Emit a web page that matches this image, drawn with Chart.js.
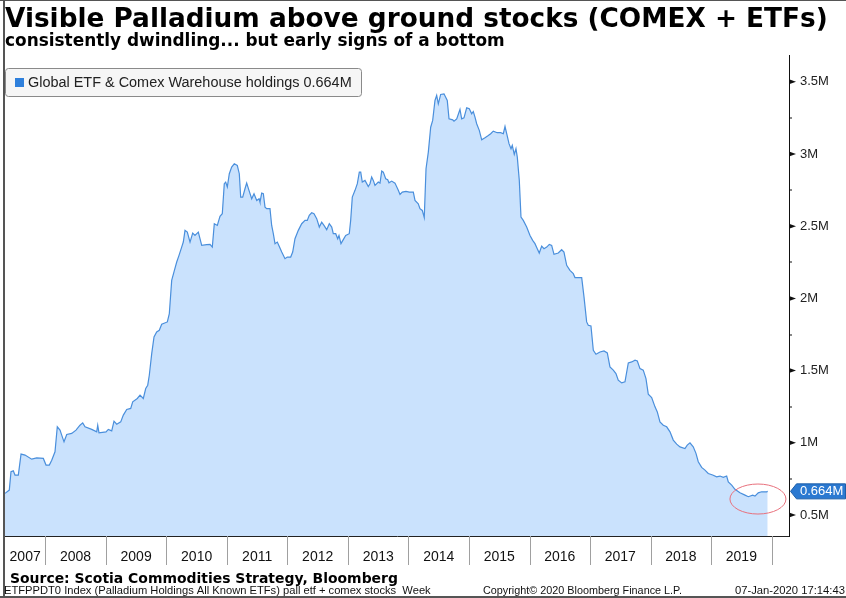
<!DOCTYPE html>
<html><head><meta charset="utf-8">
<script src="https://cdn.jsdelivr.net/npm/chart.js@4.4.1/dist/chart.umd.min.js"></script>
<style>html,body{margin:0;padding:0;background:#fff;}#wrap{position:relative;width:846px;height:598px;}canvas{display:block;}</style>
</head><body><div id="wrap"><canvas id="c" width="846" height="598"></canvas></div>
<script>
// ---- data (decimal year, millions of oz) ----
const weeks = [
2007.334,2007.405,2007.433,2007.471,2007.499,2007.554,2007.599,2007.665,2007.775,2007.858,2007.967,
2008.012,2008.066,2008.106,2008.160,2008.198,2008.243,2008.271,2008.309,2008.354,2008.436,2008.507,2008.573,2008.618,2008.656,2008.767,2008.849,2008.866,2008.887,
2009.003,2009.041,2009.097,2009.135,2009.180,2009.246,2009.289,2009.345,2009.411,2009.444,2009.520,2009.565,2009.619,2009.659,2009.692,2009.718,2009.758,2009.796,2009.840,2009.883,2009.923,
2010.016,2010.049,2010.088,2010.126,2010.171,2010.209,2010.253,2010.280,2010.308,2010.346,2010.391,2010.435,2010.473,2010.528,2010.584,2010.666,2010.721,2010.759,2010.792,2010.842,2010.886,2010.924,2010.957,2010.980,
2011.007,2011.040,2011.079,2011.122,2011.172,2011.205,2011.228,2011.261,2011.299,2011.327,2011.365,2011.410,2011.448,2011.493,2011.531,2011.547,2011.575,2011.602,2011.630,2011.658,2011.712,2011.740,2011.767,2011.795,2011.833,2011.866,2011.906,2011.960,2011.998,
2012.054,2012.087,2012.125,2012.180,2012.236,2012.291,2012.328,2012.361,2012.401,2012.439,2012.484,2012.527,2012.566,2012.604,2012.649,2012.692,2012.732,2012.758,2012.798,2012.831,2012.852,2012.885,2012.923,2012.963,
2013.022,2013.045,2013.072,2013.117,2013.155,2013.188,2013.211,2013.237,2013.282,2013.336,2013.364,2013.392,2013.419,2013.447,2013.501,2013.530,2013.558,2013.584,2013.624,2013.657,2013.678,2013.723,2013.777,2013.832,2013.860,2013.898,2013.959,
2014.014,2014.080,2014.108,2014.162,2014.190,2014.228,2014.261,2014.290,2014.328,2014.367,2014.400,2014.438,2014.466,2014.493,2014.532,2014.587,2014.641,2014.670,2014.731,2014.752,2014.797,2014.851,2014.879,2014.917,2014.962,
2015.005,2015.044,2015.071,2015.099,2015.127,2015.170,2015.210,2015.264,2015.319,2015.358,2015.401,2015.467,2015.524,2015.567,2015.595,2015.623,2015.661,2015.694,2015.715,2015.748,2015.776,2015.798,2015.831,2015.859,2015.897,2015.953,
2016.008,2016.052,2016.090,2016.128,2016.161,2016.201,2016.239,2016.284,2016.327,2016.366,2016.404,2016.475,2016.531,2016.569,2016.614,2016.668,2016.723,2016.751,2016.806,2016.862,2016.900,2016.944,2016.971,
2017.015,2017.054,2017.098,2017.164,2017.230,2017.285,2017.329,2017.384,2017.428,2017.466,2017.523,2017.577,2017.632,2017.688,2017.743,2017.781,2017.825,2017.879,2017.924,2017.962,
2018.018,2018.073,2018.111,2018.155,2018.210,2018.266,2018.321,2018.375,2018.431,2018.486,2018.568,2018.606,2018.651,2018.705,2018.750,2018.788,2018.844,2018.899,2018.953,
2019.026,2019.092,2019.147,2019.201,2019.257,2019.284,2019.340,2019.394,2019.477,2019.560,2019.614,2019.687,2019.725,2019.779,2019.834,2019.918,2019.935
];
const holdingsM = [
0.650,0.673,0.800,0.806,0.777,0.777,0.922,0.915,0.887,0.896,0.892,
0.846,0.846,0.880,0.938,1.111,1.088,1.053,1.007,1.058,1.065,1.088,1.122,1.138,1.111,1.093,1.076,1.122,1.069,
1.076,1.093,1.083,1.150,1.129,1.145,1.192,1.231,1.238,1.284,1.307,1.330,1.307,1.376,1.399,1.468,1.618,1.733,1.768,1.779,1.821,
1.837,1.895,2.125,2.183,2.252,2.298,2.355,2.390,2.471,2.459,2.390,2.452,2.436,2.459,2.367,2.372,2.374,2.355,2.517,2.505,2.568,2.586,2.794,2.805,
2.771,2.863,2.909,2.932,2.920,2.863,2.701,2.701,2.759,2.798,2.748,2.690,2.725,2.678,2.690,2.667,2.729,2.725,2.632,2.621,2.621,2.505,2.448,2.379,2.390,2.360,2.321,2.275,2.286,
2.286,2.321,2.413,2.471,2.517,2.540,2.540,2.575,2.593,2.586,2.552,2.494,2.528,2.505,2.476,2.517,2.494,2.448,2.448,2.413,2.436,2.379,2.407,2.436,
2.448,2.540,2.701,2.748,2.794,2.874,2.874,2.805,2.817,2.775,2.794,2.840,2.817,2.782,2.805,2.798,2.881,2.874,2.828,2.822,2.800,2.812,2.798,2.748,2.720,2.736,2.741,
2.736,2.736,2.678,2.655,2.621,2.609,2.559,2.898,3.013,3.185,3.232,3.370,3.405,3.347,3.412,3.416,3.370,3.243,3.236,3.227,3.243,3.308,3.243,3.250,3.319,
3.313,3.278,3.294,3.255,3.209,3.163,3.098,3.112,3.128,3.140,3.158,3.147,3.147,3.140,3.190,3.140,3.071,3.036,3.059,2.997,3.036,2.978,2.817,2.563,2.540,2.494,
2.436,2.402,2.379,2.344,2.314,2.362,2.344,2.355,2.374,2.367,2.305,2.314,2.337,2.321,2.229,2.194,2.171,2.144,2.144,2.144,2.010,1.837,1.814,
1.809,1.641,1.613,1.629,1.636,1.622,1.526,1.503,1.480,1.434,1.415,1.422,1.553,1.560,1.572,1.567,1.514,1.503,1.445,1.337,
1.314,1.249,1.214,1.145,1.122,1.111,1.076,1.019,0.991,0.972,0.961,0.984,1.000,0.972,0.927,0.869,0.830,0.811,0.788,
0.777,0.765,0.770,0.761,0.770,0.730,0.707,0.678,0.654,0.638,0.627,0.638,0.631,0.654,0.661,0.661,0.664
];
const yearBoundaries = [2008,2009,2010,2011,2012,2013,2014,2015,2016,2017,2018,2019,2020];
const yearLabels = ['2007','2008','2009','2010','2011','2012','2013','2014','2015','2016','2017','2018','2019'];
const yTickValues = [0.5,0.75,1,1.25,1.5,1.75,2,2.25,2.5,2.75,3,3.25,3.5];
const yTickLabels = ['0.5M','','1M','','1.5M','','2M','','2.5M','','3M','','3.5M'];
const xMin = 2007.334, xMax = 2020.287;
const yMin = 0.355, yMax = 3.685;
const seriesName = 'Global ETF & Comex Warehouse holdings';
const lastValue = 0.664;
const lastValueLabel = '0.664M';
const bottomMark = {x: 2019.774, y: 0.611};
const titleText = 'Visible Palladium above ground stocks (COMEX + ETFs)';
const subtitleText = 'consistently dwindling... but early signs of a bottom';
const sourceText = 'Source: Scotia Commodities Strategy, Bloomberg';
const footLeft = 'ETFPPDT0 Index (Palladium Holdings All Known ETFs) pall etf + comex stocks  Week';
const footMid = 'Copyright\u00A9 2020 Bloomberg Finance L.P.';
const footRight = '07-Jan-2020 17:14:43';

const labelCenters = yearBoundaries.map(b => (Math.max(xMin, b - 1) + b) / 2);
const points = weeks.map((w, i) => ({x: w, y: holdingsM[i]}));

function fitFont(ctx, text, family, weight, width, guess) {
  ctx.font = weight + ' ' + guess + 'px ' + family;
  const w = ctx.measureText(text).width;
  return weight + ' ' + (guess * width / w).toFixed(2) + 'px ' + family;
}
function drawText(ctx, text, x, y, w, family, weight, guess, color) {
  ctx.font = fitFont(ctx, text, family, weight, w, guess);
  ctx.fillStyle = color; ctx.textAlign = 'left'; ctx.textBaseline = 'alphabetic';
  ctx.fillText(text, x, y);
}

const decor = {
  id: 'decor',
  afterDatasetsDraw(chart) {
    const ctx = chart.ctx, xs = chart.scales.x, ys = chart.scales.y;
    ctx.save();
    ctx.beginPath();
    ctx.ellipse(xs.getPixelForValue(bottomMark.x), ys.getPixelForValue(bottomMark.y), 28, 15, 0, 0, Math.PI * 2);
    ctx.strokeStyle = '#e8707c'; ctx.lineWidth = 1; ctx.stroke();
    ctx.restore();
  },
  afterDraw(chart) {
    const ctx = chart.ctx, xs = chart.scales.x, ys = chart.scales.y, ca = chart.chartArea;
    ctx.save();
    // frame
    ctx.fillStyle = '#555';
    ctx.fillRect(3, 0, 2, 598);
    ctx.fillRect(0, 0, 846, 1);
    ctx.fillRect(0, 596, 846, 2);
    // titles
    drawText(ctx, titleText, 5, 27, 823, "'DejaVu Sans'", 'bold', 24, '#000');
    drawText(ctx, subtitleText, 5, 45.5, 500, "'DejaVu Sans'", 'bold', 15, '#000');
    // legend box
    ctx.beginPath();
    ctx.roundRect(5.5, 68.5, 356, 28, 3);
    ctx.fillStyle = '#f6f6f6'; ctx.fill();
    ctx.strokeStyle = '#8a8a8a'; ctx.lineWidth = 1; ctx.stroke();
    ctx.fillStyle = '#2f80dc'; ctx.fillRect(15, 78, 9, 9);
    drawText(ctx, seriesName + ' ' + lastValueLabel, 28, 87.3, 324, "'Liberation Sans'", 'normal', 14, '#222');
    // x separators
    ctx.strokeStyle = '#a0a0a0'; ctx.lineWidth = 1;
    yearBoundaries.forEach(b => {
      const px = Math.round(xs.getPixelForValue(b)) + 0.5;
      ctx.beginPath(); ctx.moveTo(px, ca.bottom); ctx.lineTo(px, ca.bottom + 29); ctx.stroke();
    });
    // y tick marks
    const ax = ca.right;
    yTickValues.forEach((v, i) => {
      const py = ys.getPixelForValue(v);
      ctx.fillStyle = '#111';
      if (yTickLabels[i]) {
        ctx.beginPath(); ctx.moveTo(ax, py - 2.5); ctx.lineTo(ax + 7, py); ctx.lineTo(ax, py + 2.5); ctx.closePath(); ctx.fill();
      } else {
        ctx.fillRect(ax, Math.round(py) - 0.5, 3, 1);
      }
    });
    // last value tag
    const yv = ys.getPixelForValue(lastValue);
    ctx.beginPath();
    ctx.moveTo(ax + 1.5, yv); ctx.lineTo(ax + 7.5, yv - 7.5); ctx.lineTo(845.5, yv - 7.5);
    ctx.lineTo(845.5, yv + 7.5); ctx.lineTo(ax + 7.5, yv + 7.5); ctx.closePath();
    ctx.fillStyle = '#2b79d1'; ctx.fill();
    ctx.strokeStyle = '#1d5ea8'; ctx.stroke();
    ctx.fillStyle = '#fff'; ctx.font = "13px 'Liberation Sans'"; ctx.textBaseline = 'middle'; ctx.textAlign = 'left';
    ctx.fillText(lastValueLabel, ax + 11, yv + 0.5);
    // footers
    drawText(ctx, sourceText, 10, 582.7, 388, "'DejaVu Sans'", 'bold', 15, '#000');
    drawText(ctx, footLeft, 4, 594, 427, "'Liberation Sans'", 'normal', 11, '#111');
    drawText(ctx, footMid, 483, 594, 199, "'Liberation Sans'", 'normal', 11, '#111');
    drawText(ctx, footRight, 735, 594, 110, "'Liberation Sans'", 'normal', 11, '#111');
    ctx.restore();
  }
};

new Chart(document.getElementById('c'), {
  type: 'line',
  data: { datasets: [{
    label: seriesName,
    data: points,
    borderColor: '#4a8fdc',
    backgroundColor: '#cae2fd',
    borderWidth: 1.2,
    fill: 'start',
    pointRadius: 0,
    tension: 0
  }]},
  options: {
    responsive: false,
    animation: false,
    devicePixelRatio: 1,
    layout: { padding: { left: 5, top: 55, right: 0, bottom: 0 } },
    plugins: { legend: { display: false }, tooltip: { enabled: false }, title: { display: false } },
    scales: {
      x: {
        type: 'linear', min: xMin, max: xMax, position: 'bottom',
        afterBuildTicks: s => { s.ticks = labelCenters.map(v => ({ value: v })); },
        afterFit: s => { s.height = 62; s.paddingLeft = 0; s.paddingRight = 0; },
        grid: { display: false, drawTicks: false },
        border: { display: true, color: '#222', width: 1 },
        ticks: { autoSkip: false, maxRotation: 0, padding: 13, color: '#111',
          font: { family: "'Liberation Sans'", size: 14 },
          callback: (v, i) => yearLabels[i] }
      },
      y: {
        position: 'right', min: yMin, max: yMax,
        afterBuildTicks: s => { s.ticks = yTickValues.map(v => ({ value: v })); },
        afterFit: s => { s.width = 57; s.paddingTop = 0; s.paddingBottom = 0; },
        grid: { display: false, drawTicks: false },
        border: { display: true, color: '#111', width: 1 },
        ticks: { padding: 11, color: '#222', autoSkip: false,
          font: { family: "'Liberation Sans'", size: 13 },
          callback: (v, i) => yTickLabels[i] }
      }
    }
  },
  plugins: [decor]
});
</script></body></html>
